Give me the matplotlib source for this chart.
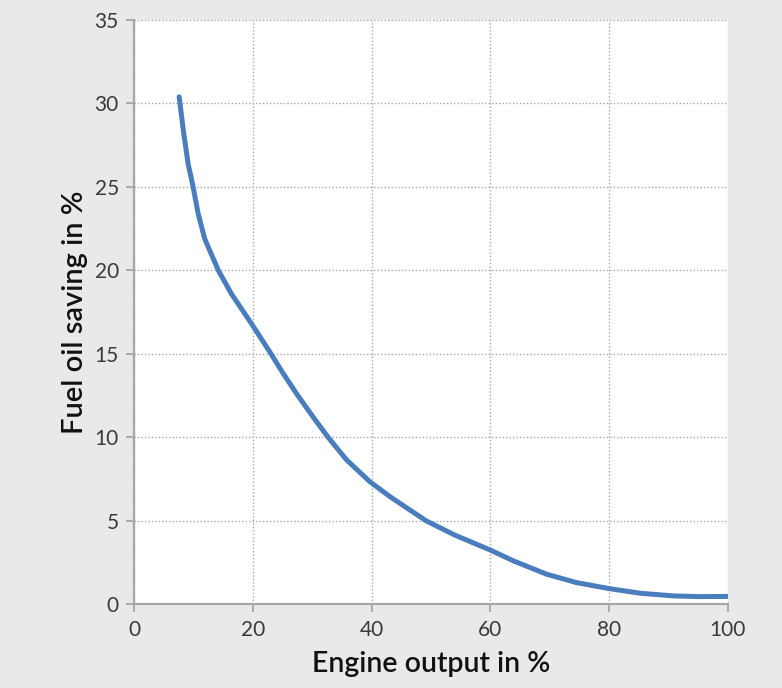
import matplotlib
matplotlib.use("Agg")
from matplotlib import pyplot as plt

# engine output (%) vs fuel oil saving (%)
engine_output = [7.6, 8.3, 9.1, 9.9, 10.8, 11.9, 14.2, 16.4, 19.8, 22.9,
                 24.9, 27.4, 30.2, 32.7, 35.8, 39.7, 43.1, 49.2, 54.0, 60.0,
                 63.9, 69.5, 74.5, 80.0, 85.3, 90.9, 95.0, 100.0]
fuel_saving = [30.4, 28.4, 26.4, 25.1, 23.4, 21.9, 20.0, 18.6, 16.8, 15.1,
               13.95, 12.6, 11.2, 10.0, 8.65, 7.35, 6.45, 5.0, 4.15, 3.25,
               2.6, 1.8, 1.3, 0.94, 0.66, 0.5, 0.46, 0.47]

x_ticks = [0, 20, 40, 60, 80, 100]
y_ticks = [0, 5, 10, 15, 20, 25, 30, 35]

bg_color = "#e8e9eb"
line_color = "#4a7dbd"
axis_color = "#a6a6a6"

plt.rcParams['font.family'] = ['Lato', 'DejaVu Sans']

fig = plt.figure(figsize=(7.82, 6.88), dpi=100, facecolor=bg_color)
ax = fig.add_axes([0.1714, 0.1217, 0.7592, 0.8492])
ax.set_facecolor("white")

ax.plot(engine_output, fuel_saving, color=line_color, linewidth=3.6,
        solid_capstyle='round', solid_joinstyle='round', zorder=3)

ax.set_xlim(0, 100)
ax.set_ylim(0, 35)
ax.set_xticks(x_ticks)
ax.set_yticks(y_ticks)
ax.grid(True, color="#a8a8a8", linestyle=(0, (1, 1.5)), linewidth=1.0)
ax.set_axisbelow(True)

for side in ['top', 'right']:
    ax.spines[side].set_visible(False)
for side in ['left', 'bottom']:
    ax.spines[side].set_color(axis_color)
    ax.spines[side].set_linewidth(1.6)

ax.tick_params(axis='both', direction='out', length=6, width=1.3,
               color=axis_color, labelsize=15, labelcolor="#3a3a3a", pad=5)

ax.set_xlabel("Engine output in %", fontsize=20.5, color="#111111",
              fontweight='semibold', labelpad=8)
ax.set_ylabel("Fuel oil saving in %", fontsize=21, color="#111111",
              fontweight='semibold', labelpad=5)

fig.savefig("out.png", dpi=100, facecolor=bg_color)
